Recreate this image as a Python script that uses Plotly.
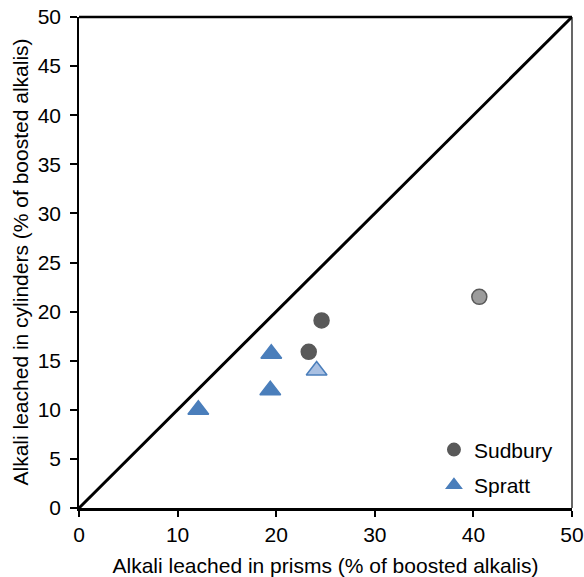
import plotly.graph_objects as go

# Sudbury aggregate: prisms vs cylinders (% of boosted alkalis)
sudbury_prism = [23.3, 24.6, 40.6]
sudbury_cyl = [15.9, 19.1, 21.5]
sudbury_fill = ["#595959", "#595959", "#9c9c9c"]
sudbury_edge = ["#595959", "#595959", "#595959"]

# Spratt aggregate
spratt_prism = [12.1, 19.4, 19.5, 24.1]
spratt_cyl = [10.0, 12.0, 15.7, 14.0]
spratt_fill = ["#4a7ebb", "#4a7ebb", "#4a7ebb", "#a9c0e2"]
spratt_edge = ["#4a7ebb", "#4a7ebb", "#4a7ebb", "#4a7ebb"]

# 1:1 reference line
line_x = [0, 50]
line_y = [0, 50]

axis_ticks = [0, 10, 20, 30, 40, 50]
y_ticks = [0, 5, 10, 15, 20, 25, 30, 35, 40, 45, 50]

FONT = "Liberation Sans, Arial, sans-serif"

fig = go.Figure()

fig.add_trace(go.Scatter(
    x=line_x, y=line_y, mode="lines",
    line=dict(color="black", width=3), showlegend=False, hoverinfo="skip",
))

fig.add_trace(go.Scatter(
    x=sudbury_prism, y=sudbury_cyl, mode="markers", name="Sudbury",
    legendgroup="a",
    marker=dict(symbol="circle", size=15, color=sudbury_fill,
                line=dict(color=sudbury_edge, width=1.5)),
))

fig.add_trace(go.Scatter(
    x=spratt_prism, y=spratt_cyl, mode="markers", name="Spratt",
    legendgroup="b",
    marker=dict(symbol="triangle-up", size=18, color=spratt_fill,
                line=dict(color=spratt_edge, width=1.5)),
))

tick_font = dict(family=FONT, size=21, color="#000000")
title_font = dict(family=FONT, size=21, color="#000000")

fig.update_layout(
    width=584, height=577,
    margin=dict(l=79, r=12, t=17, b=69),
    paper_bgcolor="white", plot_bgcolor="white",
    font=title_font,
    legend=dict(
        x=0.72, y=0.16, xanchor="left", yanchor="top",
        font=dict(family=FONT, size=21, color="#000000"),
        tracegroupgap=5, itemwidth=30, bgcolor="rgba(255,255,255,0)",
        itemsizing="constant",
    ),
)

fig.update_xaxes(
    range=[0, 50], tickvals=axis_ticks, ticks="outside", ticklen=6,
    tickwidth=1.5, tickcolor="black", automargin=False,
    showline=True, linecolor="black", linewidth=2.5, mirror=False,
    showgrid=False, zeroline=False,
    title=dict(text="Alkali leached in prisms (% of boosted alkalis)", font=title_font),
    tickfont=tick_font,
)
fig.update_yaxes(
    range=[0, 50], tickvals=y_ticks, ticks="outside", ticklen=7,
    tickwidth=1.5, tickcolor="black", automargin=False, ticklabelstandoff=5,
    showline=True, linecolor="black", linewidth=1.5, mirror=False,
    showgrid=False, zeroline=False,
    tickfont=tick_font,
)

# y-axis title, placed just left of the tick labels
fig.add_annotation(
    text="Alkali leached in cylinders (% of boosted alkalis)",
    xref="paper", yref="paper", x=0, y=0.5, xanchor="center", yanchor="middle",
    xshift=-59, textangle=-90, showarrow=False, font=title_font,
)

# frame on top and right
fig.add_shape(type="line", xref="paper", yref="paper", x0=0, x1=1, y0=1, y1=1,
              line=dict(color="black", width=2.5))
fig.add_shape(type="line", xref="paper", yref="paper", x0=1, x1=1, y0=0, y1=1,
              line=dict(color="black", width=1.2))

fig.write_html("out.html")
